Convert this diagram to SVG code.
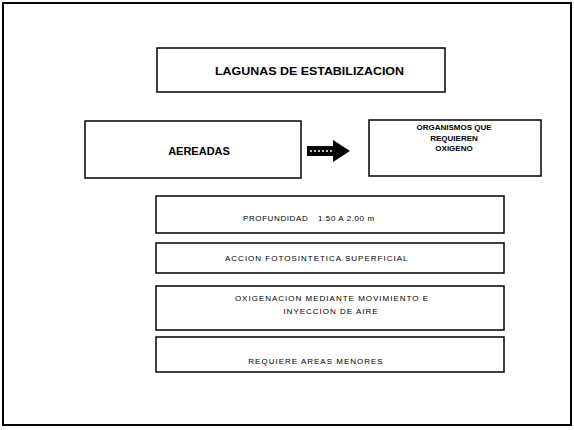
<svg xmlns="http://www.w3.org/2000/svg" width="574" height="430" viewBox="0 0 574 430">
<style>
.frame{fill:none;stroke:#000;stroke-width:2}
.box{fill:#fff;stroke:#000;stroke-width:1.5}
.b{font-family:"Liberation Sans",Arial,sans-serif;font-weight:bold;fill:#000}
.t{font-family:"Liberation Sans",Arial,sans-serif;font-size:8px;fill:#000;letter-spacing:1px}
</style>
<rect width="574" height="430" fill="#fff"/>
<rect class="frame" x="3" y="3" width="568" height="422"/>
<g id="titulo">
<rect class="box" x="157" y="48" width="288" height="44"/>
<text class="b" x="215" y="75" font-size="11.5" textLength="189" lengthAdjust="spacingAndGlyphs">LAGUNAS DE ESTABILIZACION</text>
</g>
<g id="aereadas">
<rect class="box" x="85" y="121" width="216" height="57"/>
<text class="b" x="199" y="155" font-size="11" text-anchor="middle">AEREADAS</text>
</g>
<g id="organismos">
<rect class="box" x="369" y="120" width="172" height="56"/>
<text class="b" font-size="8" text-anchor="middle"><tspan x="454" y="130">ORGANISMOS QUE</tspan><tspan x="454" y="141">REQUIEREN</tspan><tspan x="454" y="151">OXIGENO</tspan></text>
</g>
<g id="conectores">
<path d="M307,146 h26 v-6 l17,11 l-17,11 v-6 h-26 z" fill="#000"/>
<path d="M310,151 h22" stroke="#fff" stroke-width="1.5" stroke-dasharray="2 2"/>
</g>
<g id="profundidad">
<rect class="box" x="156" y="196" width="348" height="37"/>
<text class="t" x="243" y="221" style="letter-spacing:0.6px">PROFUNDIDAD</text>
<text class="t" x="318" y="221" style="letter-spacing:0.6px">1.50 A 2.00 m</text>
</g>
<g id="accion">
<rect class="box" x="156" y="243" width="348" height="30"/>
<text class="t" x="225" y="261">ACCION FOTOSINTETICA SUPERFICIAL</text>
</g>
<g id="oxigenacion">
<rect class="box" x="156" y="286" width="348" height="44"/>
<text class="t" x="332" y="301" text-anchor="middle">OXIGENACION MEDIANTE MOVIMIENTO E</text>
<text class="t" x="331" y="314" text-anchor="middle">INYECCION DE AIRE</text>
</g>
<g id="requiere">
<rect class="box" x="156" y="337" width="348" height="35"/>
<text class="t" x="316" y="364" text-anchor="middle">REQUIERE AREAS MENORES</text>
</g>
</svg>
